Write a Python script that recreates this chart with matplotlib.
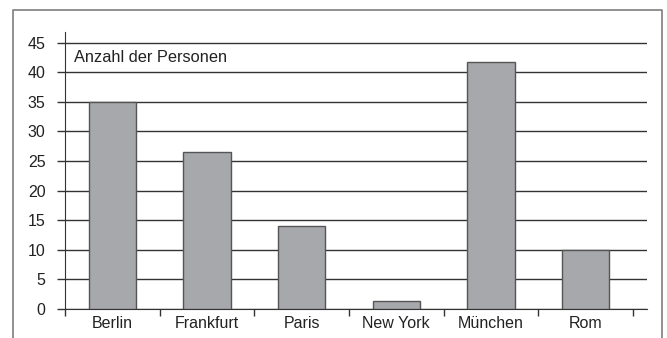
import matplotlib.pyplot as plt
from matplotlib.lines import Line2D
import numpy as np

cities = ['Berlin', 'Frankfurt', 'Paris', 'New York', 'München', 'Rom']
persons = [35, 26.5, 14, 1.4, 41.8, 10]
y_ticks = [0, 5, 10, 15, 20, 25, 30, 35, 40, 45]

plt.rcParams['font.family'] = ['Liberation Sans', 'DejaVu Sans']


def plot_persons(output):
    fig = plt.figure(figsize=(6.67, 3.38), dpi=100)
    ax = fig.add_axes([65 / 667, 29 / 338, (647 - 65) / 667, (306 - 29) / 338])

    x = np.arange(len(cities))
    ax.set_axisbelow(True)
    ax.yaxis.grid(True, color='#333333', linewidth=1.0)
    ax.bar(x, persons, width=0.5, color='#a7a8ab', edgecolor='#555555',
           linewidth=1.0, zorder=3)

    ax.set_xlim(-0.5, 5.65)
    ax.set_ylim(0, 46.8)
    ax.set_yticks(y_ticks)
    ax.set_xticks(x)
    ax.set_xticklabels(cities)
    ax.set_xticks(np.arange(-0.5, len(cities)), minor=True)

    ax.tick_params(axis='x', which='major', length=0, pad=5, labelsize=11.5,
                   colors='#222222')
    ax.tick_params(axis='x', which='minor', length=5, width=1.0, color='#333333',
                   direction='out')
    ax.tick_params(axis='y', length=6, width=1.0, color='#333333', pad=8,
                   labelsize=11.5, labelcolor='#222222')

    for side in ['top', 'right']:
        ax.spines[side].set_visible(False)
    ax.spines['left'].set_color('#333333')
    ax.spines['bottom'].set_color('#333333')

    ax.text(-0.4, 42.5, 'Anzahl der Personen', fontsize=11.8,
            color='#222222', va='center', ha='left')

    # open frame around the chart (left, top, right)
    frame_x = [13 / 667, 13 / 667, 662 / 667, 662 / 667]
    frame_y = [0, 1 - 9.5 / 338, 1 - 9.5 / 338, 0]
    fig.add_artist(Line2D(frame_x, frame_y, color='#888888', linewidth=1.3,
                          transform=fig.transFigure))

    fig.savefig(output, dpi=100)


if __name__ == '__main__':
    plot_persons('out.png')
